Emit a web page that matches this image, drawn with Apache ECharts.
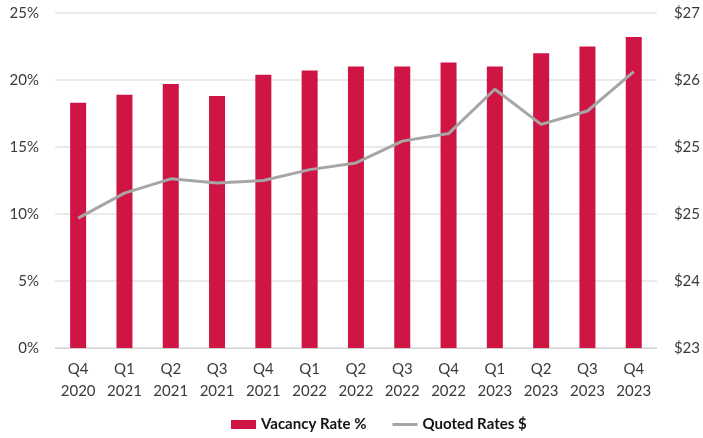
<!DOCTYPE html>
<html>
<head>
	<meta charset="utf-8">
	<title>Vacancy and Quoted Rates</title>
	<script src="https://cdn.jsdelivr.net/npm/echarts@6/dist/echarts.min.js"></script>
	<style>body{margin:0;background:#fff}</style>
</head>
<body>
	<div id="main" style="width:703px;height:438px"></div>
	<script type="text/javascript">
var quarters = ['Q4\n2020','Q1\n2021','Q2\n2021','Q3\n2021','Q4\n2021','Q1\n2022','Q2\n2022',
                'Q3\n2022','Q4\n2022','Q1\n2023','Q2\n2023','Q3\n2023','Q4\n2023'];
var vacancyRate = [18.3, 18.9, 19.7, 18.8, 20.4, 20.7, 21.0, 21.0, 21.3, 21.0, 22.0, 22.5, 23.2];
var quotedRates = [24.55, 24.85, 25.02, 24.97, 25.0, 25.13, 25.21, 25.47, 25.56, 26.09, 25.67, 25.83, 26.3];

var myChart = echarts.init(document.getElementById('main'));
var font = 'Lato';

var option = {
    animation: false,
    textStyle: { fontFamily: font },
    grid: { left: 55, right: 43, top: 13, bottom: 90 },
    legend: {
        bottom: 1,
        left: 226,
        itemGap: 26,
        itemWidth: 25,
        itemHeight: 9,
        textStyle: { fontFamily: font, fontWeight: 'bold', fontSize: 15, color: '#111' },
        data: [
            { name: 'Vacancy Rate %', icon: 'rect' },
            { name: 'Quoted Rates $', icon: 'path://M0,0 L25,0 L25,3 L0,3 Z' }
        ]
    },
    xAxis: {
        type: 'category',
        data: quarters,
        axisTick: { show: false },
        axisLine: { lineStyle: { color: '#d0d0d0', width: 1 } },
        axisLabel: { color: '#3a3a3a', fontSize: 15, lineHeight: 22, margin: 10 }
    },
    yAxis: [{
        type: 'value',
        min: 0, max: 25, interval: 5,
        axisLabel: { formatter: '{value}%', color: '#3a3a3a', fontSize: 15, margin: 16 },
        splitLine: { lineStyle: { color: '#e3e3e3', width: 1.5 } }
    }, {
        type: 'value',
        min: 23, max: 27, interval: 0.8,
        splitLine: { show: false },
        axisLabel: {
            color: '#3a3a3a', fontSize: 15, margin: 17,
            formatter: function (v) { return '$' + Math.round(v); }
        }
    }],
    series: [{
        name: 'Vacancy Rate %',
        type: 'bar',
        data: vacancyRate,
        barWidth: 16,
        itemStyle: { color: '#cf1544' }
    }, {
        name: 'Quoted Rates $',
        type: 'line',
        yAxisIndex: 1,
        data: quotedRates,
        symbol: 'none',
        lineStyle: { color: '#a6a6a6', width: 3 },
        itemStyle: { color: '#a6a6a6' }
    }]
};

myChart.setOption(option);
	</script>
</body>
</html>
